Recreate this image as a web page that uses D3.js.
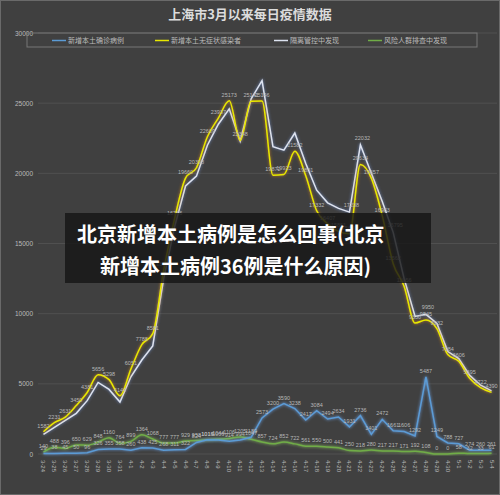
<!DOCTYPE html>
<html><head><meta charset="utf-8">
<script src="https://cdn.jsdelivr.net/npm/d3@7"></script>
<style>body{margin:0;background:#404040}svg{display:block}</style>
</head><body><svg id="c" width="500" height="495"></svg>
<script>
const dates=["3-24","3-25","3-26","3-27","3-28","3-29","3-30","3-31","4-1","4-2","4-3","4-4","4-5","4-6","4-7","4-8","4-9","4-10","4-11","4-12","4-13","4-14","4-15","4-16","4-17","4-18","4-19","4-20","4-21","4-22","4-23","4-24","4-25","4-26","4-27","4-28","4-29","4-30","5-1","5-2","5-3","5-4"];
const confirmed=[29,38,45,50,96,326,355,358,260,438,425,268,311,322,824,1015,1006,914,994,1189,2573,3200,3590,3238,2417,3084,2494,2634,1931,2736,1401,2472,1661,1606,1292,5487,1249,788,727,274,260,261];
const asymptomatic=[1582,2231,2631,3450,4381,5656,5298,4144,6051,7788,8581,13086,16766,19660,20398,22609,23937,25173,22348,25141,25146,19872,19923,21582,19831,17332,16407,15861,15698,20634,19657,16983,13562,11956,9330,9545,8932,7084,6606,5395,4722,4390];
const quarantine=[1400,1900,2400,2900,3800,5100,4600,3700,5500,6700,7700,12500,16200,19100,19800,22000,23500,24600,22300,25300,26600,21900,21650,22870,20700,18800,17900,17500,17238,22032,20000,18000,15795,12500,9800,9950,9300,7300,6800,5600,4900,4500];
const screening=[140,488,396,650,629,848,1160,764,899,1364,1068,777,777,929,958,1014,1044,1106,1205,1047,857,724,852,722,561,550,500,441,250,218,280,217,217,171,192,108,0,0,58,32,33,61];
const legendNames=["新增本土确诊病例","新增本土无症状感染者","隔离管控中发现","风险人群排查中发现"];
const colors=["#5b9bd5","#e8e800","#dde3f0","#70ad47"];
const yTicks=[0,5000,10000,15000,20000,25000,30000];

const svg=d3.select("#c");
svg.append("rect").attr("x",0.5).attr("y",0.5).attr("width",499).attr("height",494).attr("fill","#404040").attr("stroke","#6a6a6a");
const defs=svg.append("defs");
[["gy","#d9861e"],["gw","#6f8fcf"],["gb","#6fb0ff"],["gg","#8fd05f"]].forEach(([id,c])=>{
 const f=defs.append("filter").attr("id",id).attr("x","-10%").attr("y","-10%").attr("width","120%").attr("height","120%");
 f.append("feDropShadow").attr("dx",0).attr("dy",0).attr("stdDeviation",1.6).attr("flood-color",c).attr("flood-opacity",0.9);
});
const x=d3.scaleBand().domain(dates).range([38,497]);
const cx=d=>x(d)+x.bandwidth()/2;
const y=d3.scaleLinear().domain([0,30000]).range([454,33]);

svg.append("text").attr("x",250).attr("y",19).attr("text-anchor","middle").attr("fill","#dcdcdc").attr("font-size",13).attr("font-weight","bold").attr("font-family","Noto Sans CJK SC").text("上海市3月以来每日疫情数据");

const ga=svg.append("g").attr("transform","translate(38,0)").call(d3.axisLeft(y).tickValues(yTicks).tickSize(0).tickPadding(5).tickFormat(d3.format("d")));
ga.select(".domain").remove();
ga.selectAll("text").attr("fill","#bbb").attr("font-size",6.5).attr("font-family","Liberation Sans");
svg.append("g").selectAll("line").data(yTicks).join("line").attr("x1",38).attr("x2",497).attr("y1",d=>y(d)).attr("y2",d=>y(d)).attr("stroke","#505050");

svg.append("rect").attr("x",27).attr("y",33).attr("width",450).attr("height",14).attr("fill","none").attr("stroke","#777");
const lx=[52,155,274,368];
legendNames.forEach((n,i)=>{
 svg.append("line").attr("x1",lx[i]).attr("x2",lx[i]+14).attr("y1",40.5).attr("y2",40.5).attr("stroke",colors[i]).attr("stroke-width",1.5);
 svg.append("text").attr("x",lx[i]+16).attr("y",43).attr("fill","#bbb").attr("font-size",7).attr("font-family","Noto Sans CJK SC").text(n);
});

const series=[
 {v:screening,c:colors[3],f:"gg",curve:d3.curveMonotoneX,lab:true,dy:-4},
 {v:confirmed,c:colors[0],f:"gb",curve:d3.curveLinear,lab:true,dy:-4},
 {v:quarantine,c:colors[2],f:"gw",curve:d3.curveLinear,lab:false},
 {v:asymptomatic,c:colors[1],f:"gy",curve:d3.curveMonotoneX,lab:true,dy:-4}
];
series.forEach(s=>{
 const line=d3.line().x((d,i)=>cx(dates[i])).y(d=>y(d)).curve(s.curve);
 svg.append("path").datum(s.v).attr("d",line).attr("fill","none").attr("stroke",s.c).attr("stroke-width",1.5).attr("filter",`url(#${s.f})`);
});
series.filter(s=>s.lab).forEach(s=>{
 svg.append("g").selectAll("text").data(s.v).join("text").attr("x",(d,i)=>cx(dates[i])).attr("y",d=>y(d)+s.dy).attr("text-anchor","middle").attr("fill","#b8b8b8").attr("font-size",5.5).attr("font-family","Liberation Sans").text(d=>d);
});
const wl=[28,29,32,35];
svg.append("g").selectAll("text").data(wl).join("text").attr("x",i=>cx(dates[i])+2).attr("y",i=>y(quarantine[i])-5).attr("text-anchor","middle").attr("fill","#b8b8b8").attr("font-size",5.5).attr("font-family","Liberation Sans").text(i=>quarantine[i]);

// x axis labels (vertical, reading top-to-bottom)
svg.append("g").selectAll("text").data(dates).join("text")
 .attr("transform",d=>`translate(${cx(d)-2},460) rotate(90)`)
 .attr("fill","#bbb").attr("font-size",6).attr("font-family","Liberation Sans").text(d=>d);

svg.append("rect").attr("x",65).attr("y",213).attr("width",366).attr("height",70).attr("fill","rgba(22,22,22,0.82)");
const bt=svg.append("g").attr("fill","#fff").attr("font-size",20).attr("font-weight","bold").attr("font-family","Noto Sans CJK SC");
bt.append("text").attr("x",77).attr("y",242).text("北京新增本土病例是怎么回事(北京");
bt.append("text").attr("x",100).attr("y",274).text("新增本土病例36例是什么原因)");
</script></body></html>
